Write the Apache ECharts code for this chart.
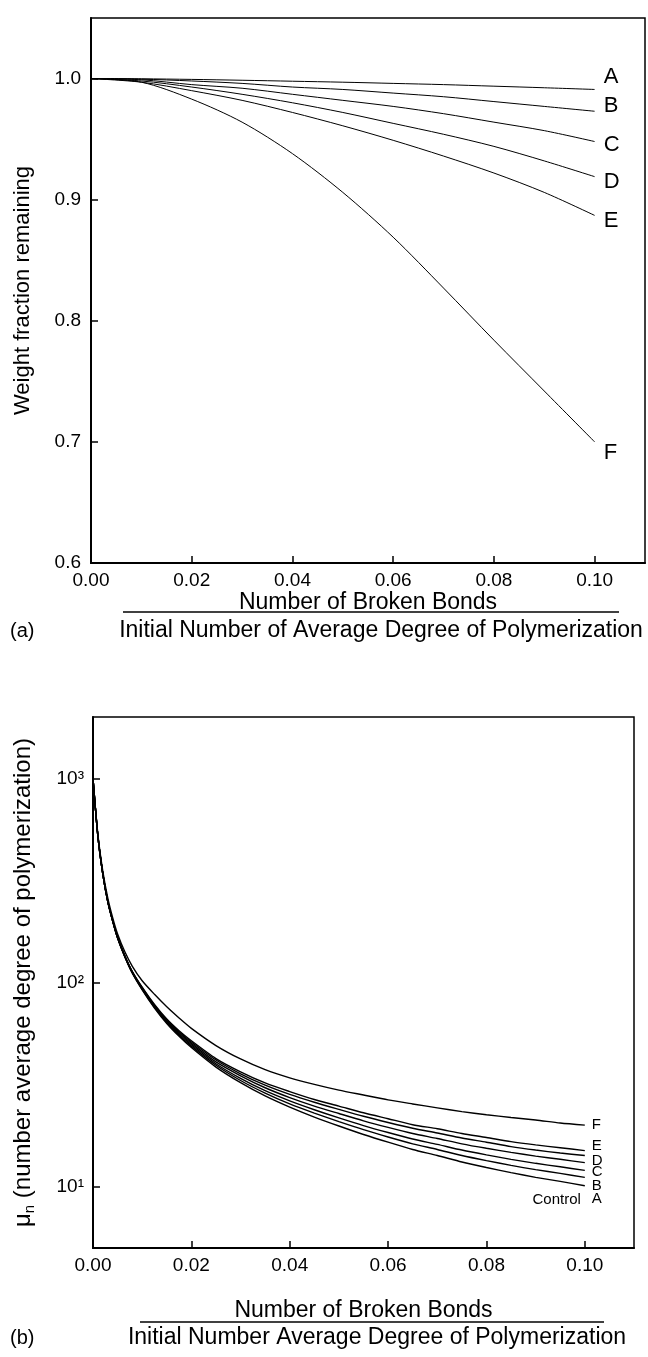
<!DOCTYPE html>
<html><head><meta charset="utf-8">
<script src="https://cdn.jsdelivr.net/npm/echarts@6/dist/echarts.min.js"></script>
<style>html,body{margin:0;padding:0;background:#fff}#c{width:648px;height:1357px}</style>
</head><body><div id="c"></div>
<script>
// ---------- Panel (a) data ----------
const X_A = [0, 0.01, 0.02, 0.03, 0.04, 0.05, 0.06, 0.07, 0.08, 0.09, 0.10];
const A_A = [1, 0.9998, 0.9993, 0.9986, 0.9978, 0.997, 0.996, 0.995, 0.9937, 0.9924, 0.991];
const B_A = [1, 0.9995, 0.998, 0.996, 0.993, 0.991, 0.988, 0.985, 0.981, 0.977, 0.973];
const C_A = [1, 0.999, 0.995, 0.992, 0.987, 0.982, 0.977, 0.971, 0.964, 0.957, 0.948];
const D_A = [1, 0.998, 0.993, 0.987, 0.980, 0.972, 0.963, 0.954, 0.944, 0.932, 0.919];
const E_A = [1, 0.997, 0.990, 0.982, 0.972, 0.961, 0.949, 0.936, 0.922, 0.906, 0.887];
const F_A = [1, 0.997, 0.983, 0.964, 0.938, 0.906, 0.869, 0.827, 0.784, 0.742, 0.700];
const X_TICKS = [0, 0.02, 0.04, 0.06, 0.08, 0.10];
const Y_TICKS_A = [0.6, 0.7, 0.8, 0.9, 1.0];

// ---------- Panel (b) data ----------
const X_B = [0, 0.001, 0.002, 0.003, 0.004, 0.005, 0.0065, 0.008, 0.01, 0.0125, 0.015, 0.0175, 0.02, 0.025, 0.03, 0.035, 0.04, 0.045, 0.05, 0.055, 0.06, 0.065, 0.07, 0.075, 0.08, 0.085, 0.09, 0.095, 0.10];
const CTRL_B = [1000, 520, 340, 250, 200, 165, 133, 111, 92, 75, 63, 54.5, 48, 38.5, 32.3, 27.8, 24.5, 21.9, 19.8, 18.0, 16.5, 15.2, 14.2, 13.2, 12.4, 11.7, 11.1, 10.6, 10.1];
const A_B = [1000, 520, 340, 250, 200.2, 165.3, 133.4, 111.4, 92.6, 75.6, 63.6, 55.2, 48.8, 39.3, 33.1, 28.7, 25.4, 22.9, 20.8, 19.0, 17.5, 16.2, 15.2, 14.2, 13.4, 12.7, 12.1, 11.6, 11.1];
const B_B = [1000, 520, 340, 250, 200.4, 165.6, 133.8, 111.9, 93.1, 76.2, 64.2, 55.9, 49.5, 40.0, 33.9, 29.5, 26.3, 23.8, 21.7, 19.9, 18.4, 17.1, 16.1, 15.1, 14.3, 13.6, 13.0, 12.5, 12.0];
const C_B = [1000, 520, 340, 250, 200.6, 166.0, 134.2, 112.4, 93.7, 76.8, 64.9, 56.7, 50.3, 40.8, 34.9, 30.5, 27.3, 24.8, 22.8, 21.0, 19.5, 18.2, 17.2, 16.2, 15.4, 14.7, 14.1, 13.6, 13.1];
const D_B = [1000, 520, 340, 250, 200.8, 166.4, 134.6, 112.8, 94.3, 77.5, 65.6, 57.4, 51.1, 41.7, 35.7, 31.4, 28.3, 25.9, 23.9, 22.1, 20.6, 19.3, 18.3, 17.3, 16.5, 15.7, 15.1, 14.6, 14.2];
const E_B = [1000, 520, 340, 250, 201, 166.7, 135, 113.2, 94.8, 78, 66.2, 58.0, 51.8, 42.4, 36.5, 32.2, 29.2, 26.7, 24.8, 23.0, 21.5, 20.1, 19.2, 18.2, 17.4, 16.6, 16.0, 15.5, 15.0];
const F_B = [1000, 530, 350, 260, 208, 173, 141, 120, 102, 87.5, 76, 67, 59.6, 49.1, 42.2, 37.4, 34.1, 31.7, 29.7, 28.1, 26.6, 25.4, 24.3, 23.3, 22.5, 21.8, 21.2, 20.5, 20.0];
const Y_TICKS_B = [10, 100, 1000];

const FONT = '"Liberation Sans", Arial, Helvetica, sans-serif';
const SUP = {'1': '\u00B9', '2': '\u00B2', '3': '\u00B3'};

const zip = (xs, ys) => xs.map((x, i) => [x, ys[i]]);

function lineA(name, ys, dy) {
  return {
    type: 'line', name, xAxisIndex: 0, yAxisIndex: 0,
    data: zip(X_A, ys), showSymbol: false, smooth: 0.3,
    lineStyle: {color: '#000', width: 1}, silent: true,
    endLabel: {show: true, formatter: name, distance: 9, offset: [0, dy],
      fontSize: 22, color: '#000', fontFamily: FONT}
  };
}
function lineB(name, ys, label) {
  return {
    type: 'line', name, xAxisIndex: 1, yAxisIndex: 1,
    data: zip(X_B, ys), showSymbol: false, smooth: 0.25,
    lineStyle: {color: '#000', width: 1.4}, silent: true,
    endLabel: Object.assign({show: true, formatter: name, distance: 5,
      fontSize: 15, color: '#000', fontFamily: FONT}, label)
  };
}

const axisCommonX = {
  type: 'value', min: 0, max: 0.11, interval: 0.02,
  axisLine: {show: true, onZero: false, lineStyle: {color: '#000', width: 2}},
  axisTick: {show: true, inside: true, length: 7, customValues: X_TICKS, lineStyle: {color: '#000', width: 1.5}},
  axisLabel: {customValues: X_TICKS, formatter: v => v.toFixed(2), fontSize: 19, color: '#000', fontFamily: FONT, margin: 8},
  splitLine: {show: false},
  name: 'Number of Broken Bonds', nameLocation: 'middle',
  nameTextStyle: {fontSize: 23, color: '#000', fontFamily: FONT}
};

const option = {
  backgroundColor: '#fff',
  animation: false,
  grid: [
    {left: 91, top: 18, width: 554, height: 545, show: true, borderColor: '#000', borderWidth: 1.5},
    {left: 93, top: 717, width: 541, height: 531, show: true, borderColor: '#000', borderWidth: 1.5}
  ],
  xAxis: [
    Object.assign({}, axisCommonX, {gridIndex: 0, nameGap: 27}),
    Object.assign({}, axisCommonX, {gridIndex: 1, nameGap: 51})
  ],
  yAxis: [
    {
      type: 'value', gridIndex: 0, min: 0.6, max: 1.05, interval: 0.1,
      axisLine: {show: true, lineStyle: {color: '#000', width: 2}},
      axisTick: {show: true, inside: true, length: 7, customValues: Y_TICKS_A, lineStyle: {color: '#000', width: 1.5}},
      axisLabel: {customValues: Y_TICKS_A, formatter: v => v.toFixed(1), fontSize: 19, color: '#000', fontFamily: FONT, margin: 10},
      splitLine: {show: false},
      name: 'Weight fraction remaining', nameLocation: 'middle', nameGap: 57,
      nameTextStyle: {fontSize: 22, color: '#000', fontFamily: FONT}
    },
    {
      type: 'log', logBase: 10, gridIndex: 1, min: 5, max: 2000,
      axisLine: {show: true, lineStyle: {color: '#000', width: 2}},
      axisTick: {show: true, inside: true, length: 7, customValues: Y_TICKS_B, lineStyle: {color: '#000', width: 1.5}},
      axisLabel: {customValues: Y_TICKS_B,
        formatter: v => { const e = Math.round(Math.log10(v)); return '10' + (SUP[String(e)] || ''); },
        fontSize: 19, color: '#000', fontFamily: FONT, margin: 9},
      splitLine: {show: false}, minorTick: {show: false},
      name: '{m|\u03BC}{s|n}{t| (number average degree of polymerization)}',
      nameLocation: 'middle', nameGap: 56,
      nameTextStyle: {fontSize: 24, color: '#000', fontFamily: FONT,
        rich: {m: {fontSize: 24, fontFamily: FONT, color: '#000'},
               s: {fontSize: 15, fontFamily: FONT, color: '#000', padding: [12, 0, 0, 0]},
               t: {fontSize: 24, fontFamily: FONT, color: '#000'}}}
    }
  ],
  series: [
    lineA('A', A_A, -13), lineA('B', B_A, -5), lineA('C', C_A, 3),
    lineA('D', D_A, 5), lineA('E', E_A, 6), lineA('F', F_A, 11),
    lineB('Control', CTRL_B, {formatter: 'Control', align: 'right', distance: 0, offset: [-4, 14]}),
    lineB('A', A_B, {offset: [2, 22]}),
    lineB('B', B_B, {offset: [2, 15]}),
    lineB('C', C_B, {offset: [2, 9]}),
    lineB('D', D_B, {offset: [2, 5]}),
    lineB('E', E_B, {offset: [2, -5]}),
    lineB('F', F_B, {offset: [2, 0]})
  ],
  graphic: [
    {type: 'line', shape: {x1: 123, y1: 612, x2: 619, y2: 612}, style: {stroke: '#000', lineWidth: 1.5}},
    {type: 'text', x: 381, y: 631, style: {text: 'Initial Number of Average Degree of Polymerization', fontSize: 23, fontFamily: FONT, fill: '#000', align: 'center', verticalAlign: 'middle'}},
    {type: 'text', x: 10, y: 631, style: {text: '(a)', fontSize: 20, fontFamily: FONT, fill: '#000', align: 'left', verticalAlign: 'middle'}},
    {type: 'line', shape: {x1: 140, y1: 1322, x2: 604, y2: 1322}, style: {stroke: '#000', lineWidth: 1.5}},
    {type: 'text', x: 377, y: 1338, style: {text: 'Initial Number Average Degree of Polymerization', fontSize: 23, fontFamily: FONT, fill: '#000', align: 'center', verticalAlign: 'middle'}},
    {type: 'text', x: 10, y: 1338, style: {text: '(b)', fontSize: 20, fontFamily: FONT, fill: '#000', align: 'left', verticalAlign: 'middle'}}
  ]
};

const chart = echarts.init(document.getElementById('c'), null, {renderer: 'canvas'});
chart.setOption(option);
</script>
</body></html>
